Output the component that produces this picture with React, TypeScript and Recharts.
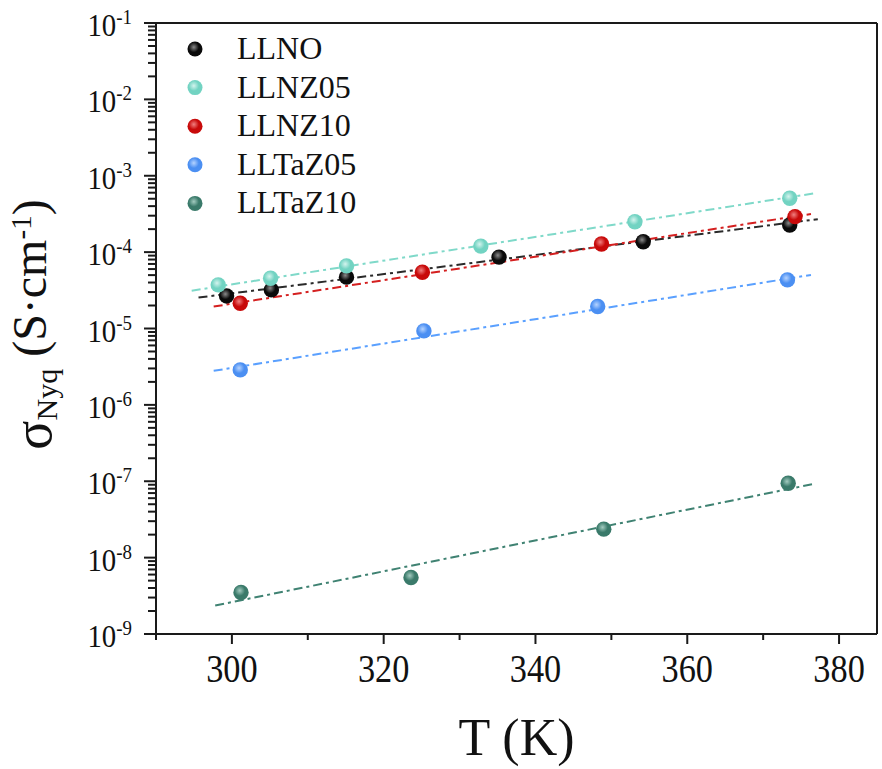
import { ComposedChart, Line, Scatter, XAxis, YAxis, Legend, ReferenceLine } from "recharts";

// measured points (T in K, sigma in S/cm)
const LLNO_T = [299.3, 305.2, 315.1, 335.2, 354.2, 373.5];
const LLNO_SIGMA = [2.67e-5, 3.2e-5, 4.7e-5, 8.6e-5, 1.37e-4, 2.27e-4];
const LLNZ05_T = [298.2, 305.1, 315.1, 332.8, 353.1, 373.5];
const LLNZ05_SIGMA = [3.72e-5, 4.55e-5, 6.6e-5, 1.2e-4, 2.5e-4, 5.07e-4];
const LLNZ10_T = [301.1, 325.1, 348.7, 374.2];
const LLNZ10_SIGMA = [2.14e-5, 5.46e-5, 1.28e-4, 2.92e-4];
const LLTAZ05_T = [301.1, 325.3, 348.2, 373.2];
const LLTAZ05_SIGMA = [2.87e-6, 9.3e-6, 1.94e-5, 4.33e-5];
const LLTAZ10_T = [301.2, 323.6, 349.0, 373.3];
const LLTAZ10_SIGMA = [3.5e-9, 5.5e-9, 2.36e-8, 9.4e-8];

// Arrhenius fit lines, start and end
const LLNO_FIT_T = [295.6, 377.2];
const LLNO_FIT_SIGMA = [2.54e-5, 2.7e-4];
const LLNZ05_FIT_T = [294.7, 377.1];
const LLNZ05_FIT_SIGMA = [3.13e-5, 5.96e-4];
const LLNZ10_FIT_T = [297.6, 376.3];
const LLNZ10_FIT_SIGMA = [1.94e-5, 3.16e-4];
const LLTAZ05_FIT_T = [297.6, 376.3];
const LLTAZ05_FIT_SIGMA = [2.79e-6, 5.03e-5];
const LLTAZ10_FIT_T = [297.8, 376.6];
const LLTAZ10_FIT_SIGMA = [2.36e-9, 9.2e-8];

const X_TICKS = [290, 300, 310, 320, 330, 340, 350, 360, 370, 380];
const X_LABELED = [300, 320, 340, 360, 380];
const Y_DECADES = [-9, -8, -7, -6, -5, -4, -3, -2];
const Y_MULTS = [1, 2, 3, 4, 5, 6, 7, 8, 9];
const Y_TICKS = [...Y_DECADES.flatMap((d) => Y_MULTS.map((k) => k * Math.pow(10, d))), 1e-1];

const SERIF = "'Liberation Serif', 'Times New Roman', serif";
const AXIS = "#1a1a1a";

const zip = (t: number[], s: number[]) => t.map((T, i) => ({ T, s: s[i] }));

const SERIES = [
  { key: "llno", name: "LLNO", color: "#0a0a0a", light: "#8a8a8a", line: "#2a2a2a", pts: zip(LLNO_T, LLNO_SIGMA), fit: zip(LLNO_FIT_T, LLNO_FIT_SIGMA) },
  { key: "llnz05", name: "LLNZ05", color: "#72d3c2", light: "#d4f4ee", line: "#7fd9c9", pts: zip(LLNZ05_T, LLNZ05_SIGMA), fit: zip(LLNZ05_FIT_T, LLNZ05_FIT_SIGMA) },
  { key: "llnz10", name: "LLNZ10", color: "#c80a0a", light: "#f08080", line: "#d42020", pts: zip(LLNZ10_T, LLNZ10_SIGMA), fit: zip(LLNZ10_FIT_T, LLNZ10_FIT_SIGMA) },
  { key: "lltaz05", name: "LLTaZ05", color: "#4b8ff2", light: "#b5d3ff", line: "#5aa0ff", pts: zip(LLTAZ05_T, LLTAZ05_SIGMA), fit: zip(LLTAZ05_FIT_T, LLTAZ05_FIT_SIGMA) },
  { key: "lltaz10", name: "LLTaZ10", color: "#3a7a6a", light: "#a3cbc0", line: "#3f8272", pts: zip(LLTAZ10_T, LLTAZ10_SIGMA), fit: zip(LLTAZ10_FIT_T, LLTAZ10_FIT_SIGMA) },
];

function Gradients() {
  return (
    <defs>
      {SERIES.map((s) => (
        <radialGradient key={s.key} id={`ball-${s.key}`} cx="42%" cy="38%" r="62%">
          <stop offset="0%" stopColor={s.light} />
          <stop offset="55%" stopColor={s.color} />
          <stop offset="100%" stopColor={s.color} />
        </radialGradient>
      ))}
    </defs>
  );
}

function XTick(props: any) {
  const { x, y, payload } = props;
  const major = X_LABELED.includes(payload.value);
  return (
    <g transform={`translate(${x},${y})`}>
      <line x1={0} x2={0} y1={0} y2={major ? 10 : 6} stroke={AXIS} strokeWidth={2} />
      {major && (
        <text transform="translate(0,48) scale(0.88,1)" textAnchor="middle" fontFamily={SERIF} fontSize={39} fill="#111">
          {payload.value}
        </text>
      )}
    </g>
  );
}

// decades get a label, the log minors only a short mark
function YTick(props: any) {
  const { x, y, payload } = props;
  const exp = Math.log10(payload.value);
  const major = Math.abs(exp - Math.round(exp)) < 1e-6;
  return (
    <g transform={`translate(${x},${y})`}>
      <line x1={0} x2={major ? -12 : -8} y1={0} y2={0} stroke={AXIS} strokeWidth={2} />
      {major && (
        <g transform="translate(-24,13) scale(0.9,1)">
          <text textAnchor="end" fontFamily={SERIF} fontSize={32} fill="#111">
            10<tspan fontSize={21} dy={-12}>{Math.round(exp)}</tspan>
          </text>
        </g>
      )}
    </g>
  );
}

function YLabel(props: any) {
  const vb = props.viewBox || { x: 0, y: 23, width: 156, height: 611 };
  const cy = vb.y + vb.height / 2 - 4;
  return (
    <text transform={`translate(46,${cy}) rotate(-90)`} textAnchor="middle" fontFamily={SERIF} fontSize={48} fill="#111">
      <tspan fontSize={54} dy={5}>σ</tspan>
      <tspan fontSize={30} dy={6}>Nyq</tspan>
      <tspan dy={-11}> (S·cm</tspan>
      <tspan fontSize={29} dy={-15}>-1</tspan>
      <tspan dy={15}>)</tspan>
    </text>
  );
}

function XLabel(props: any) {
  const vb = props.viewBox || { x: 156, y: 634, width: 721, height: 135 };
  return (
    <text x={vb.x + vb.width / 2} y={755} textAnchor="middle" fontFamily={SERIF} fontSize={52} fill="#111">
      T (K)
    </text>
  );
}

function LegendBox() {
  return (
    <svg width={260} height={200} style={{ overflow: "visible" }}>
      <Gradients />
      {SERIES.map((s, i) => (
        <g key={s.key} transform={`translate(0,${i * 38.6})`}>
          <circle cx={20} cy={24} r={7.5} fill={`url(#ball-${s.key})`} />
          <text x={62} y={34} fontFamily={SERIF} fontSize={32} fill="#111">
            {s.name}
          </text>
        </g>
      ))}
    </svg>
  );
}

const ballShape = (key: string) => (p: any) => (
  <circle cx={p.cx} cy={p.cy} r={7.7} fill={`url(#ball-${key})`} />
);

export default function App() {
  return (
    <div style={{ position: "absolute", left: 0, top: 0, background: "#fff" }}>
      <ComposedChart width={882} height={769} margin={{ top: 23, right: 5, bottom: 0, left: 0 }}>
        <Gradients />
        <XAxis
          dataKey="T"
          type="number"
          domain={[290, 385]}
          ticks={X_TICKS}
          interval={0}
          allowDataOverflow
          height={135}
          tickSize={0}
          tickMargin={0}
          tickLine={false}
          axisLine={{ stroke: AXIS, strokeWidth: 2 }}
          tick={<XTick />}
          label={<XLabel />}
        />
        <YAxis
          dataKey="s"
          type="number"
          scale="log"
          domain={[1e-9, 1e-1]}
          ticks={Y_TICKS}
          interval={0}
          allowDataOverflow
          width={156}
          tickSize={0}
          tickMargin={0}
          tickLine={false}
          axisLine={{ stroke: AXIS, strokeWidth: 2 }}
          tick={<YTick />}
          label={<YLabel />}
        />
        <ReferenceLine y={1e-1} stroke={AXIS} strokeWidth={2} />
        <ReferenceLine x={385} stroke={AXIS} strokeWidth={2} />
        {SERIES.map((s) => (
          <Line
            key={`fit-${s.key}`}
            data={s.fit}
            dataKey="s"
            stroke={s.line}
            strokeWidth={2}
            strokeDasharray="9 4 3 4"
            dot={false}
            activeDot={false}
            legendType="none"
            isAnimationActive={false}
          />
        ))}
        {SERIES.map((s) => (
          <Scatter
            key={s.key}
            name={s.name}
            data={s.pts}
            dataKey="s"
            fill={s.color}
            shape={ballShape(s.key)}
            isAnimationActive={false}
          />
        ))}
        <Legend
          layout="vertical"
          align="center"
          verticalAlign="middle"
          wrapperStyle={{ left: 175, top: 25, width: 260, height: 200 }}
          content={() => <LegendBox />}
        />
      </ComposedChart>
    </div>
  );
}
